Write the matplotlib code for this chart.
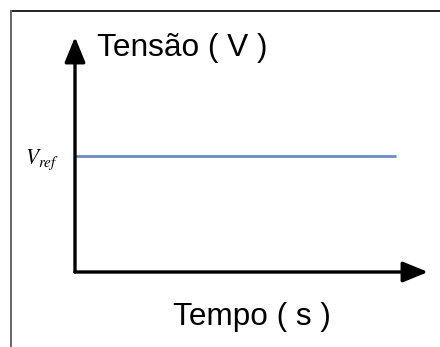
import matplotlib
matplotlib.use("Agg")
import matplotlib.pyplot as plt
from matplotlib.lines import Line2D

# Data: constant reference voltage over time
tempo = [0.0, 10.0]
tensao = [1.0, 1.0]
vref_tick = [1.0]
vref_label = [r"$V_{ref}$"]

W, H = 440, 347

plt.rcParams["font.family"] = ["Liberation Sans", "DejaVu Sans"]
plt.rcParams["mathtext.fontset"] = "stix"

fig = plt.figure(figsize=(W / 100, H / 100), dpi=100)

# outer frame (top and left edges visible)
fig.add_artist(Line2D([11 / W, 1.0], [1 - 10.5 / H, 1 - 10.5 / H],
                      transform=fig.transFigure, color="#222222", lw=1.4))
fig.add_artist(Line2D([11 / W, 11 / W], [0.0, 1 - 10.5 / H],
                      transform=fig.transFigure, color="#666666", lw=1.4))

# axes from the origin (75, 272) to the arrow tips (428, 37)
ax = fig.add_axes([75 / W, (H - 272) / H, (428 - 75) / W, (272 - 37) / H])
ax.set_xlim(0, 11)
ax.set_ylim(0, 2.03)
for s in ax.spines.values():
    s.set_visible(False)
ax.set_xticks([])
ax.set_yticks(vref_tick)
ax.set_yticklabels(vref_label, fontsize=15.5)
ax.tick_params(axis="y", length=0, pad=11.5)
ax.patch.set_alpha(0)

ax.plot(tempo, tensao, color="#6b8cc6", lw=2.0, solid_capstyle="butt")

arrow = dict(arrowstyle="-|>,head_length=1.1,head_width=0.45", lw=2.4,
             color="black", mutation_scale=14, shrinkA=0, shrinkB=0)
ax.annotate("", xy=(1, 0), xytext=(0, 0), xycoords="axes fraction",
            arrowprops=arrow)
ax.annotate("", xy=(0, 1), xytext=(0, 0), xycoords="axes fraction",
            arrowprops=arrow)

ax.text(0.062, 0.955, "Tensão ( V )", transform=ax.transAxes,
        fontsize=22.8, ha="left", va="center")
ax.text(0.5, -0.19, "Tempo ( s )", transform=ax.transAxes,
        fontsize=22.7, ha="center", va="center")

fig.savefig("out.png", dpi=100)
